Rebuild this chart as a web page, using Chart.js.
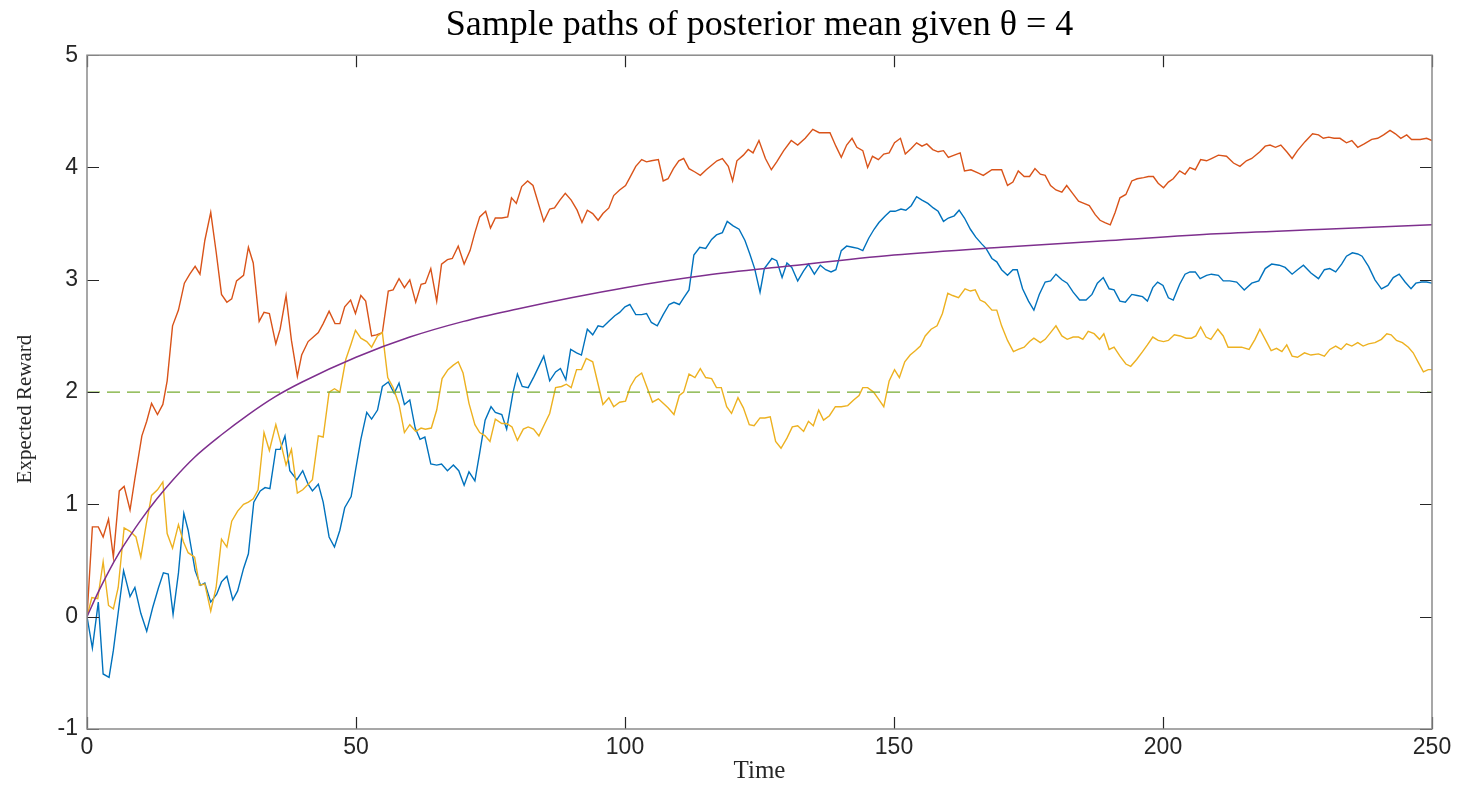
<!doctype html>
<html>
<head>
<title>Sample paths of posterior mean</title>
<script src="https://cdn.jsdelivr.net/npm/chart.js@4.4.1/dist/chart.umd.min.js"></script>
<style>
  body { margin: 0; background: #fff; }
  canvas { display: block; }
</style>
</head>
<body>
<canvas id="chart" width="1459" height="788"></canvas>
<script>
// values (time, expected reward)
var path1T = [0,1,2.1,3,4.1,4.9,6.8,8,8.9,10,11.1,12.2,13.3,14.2,15.1,16,17,18,18.8,20.1,21.1,21.9,23,24.1,25,26,27.1,28,29.1,30,31,32.2,33.1,34,35.1,35.9,36.8,37.7,39,40.1,41.1,41.9,43,43.9,45,46,47,47.9,49.1,49.9,50.9,52,52.9,54,54.9,56,57.1,58,59,60,61,61.9,62.8,63.9,65,65.9,67,68.1,69.1,70.1,71,72.1,73,74,75.1,75.9,77.1,78,79.2,80,80.9,82,83.1,84.9,86,87.1,88,89,89.9,91,91.9,93,94,95,95.9,97,98.1,99,100,100.9,102,103.1,104,104.9,106,107.1,108.2,109.1,110.1,110.9,111.9,112.8,113.9,115,116.1,117,118.1,119,120.1,121.2,122.3,123.2,124.1,125.1,125.9,127.3,128.2,129.2,130.1,131,132.1,133.2,134.1,135.2,136.3,137.3,138.3,139.2,140.2,141.2,142.3,143.3,144.2,145.3,146.3,147.2,148.4,149.3,150.2,151.3,152.2,153.2,154.2,155.2,156.3,157.3,158.2,159.2,160.1,161.2,162.1,163.1,164.2,165.2,166.3,167.1,168.2,169.1,170,171.1,172.1,172.9,173.9,175,176,177,178.1,179.1,180.1,181.2,182.2,183.3,184.5,185.7,186.8,187.8,188.9,190,190.9,192,193,194.2,195.2,196.2,197.1,198.1,199,200,201,201.9,203.1,204.1,205,206,206.9,208.1,209,210.3,211.2,212.4,213.7,215.1,216.5,217.8,219,220.2,221.6,222.7,224,225,226.1,227.5,228.9,230,231,232.1,233.2,234.1,235.2,236.2,237,238.2,239.4,240.6,241.8,242.8,243.9,245,246.1,247,248.1,249,250];
var path1V = [0,-0.28,0.13,-0.51,-0.54,-0.30,0.41,0.18,0.26,0.03,-0.13,0.08,0.26,0.39,0.38,0.02,0.39,0.92,0.77,0.41,0.28,0.30,0.13,0.20,0.31,0.36,0.15,0.23,0.43,0.56,1.02,1.12,1.15,1.14,1.49,1.49,1.61,1.30,1.22,1.30,1.18,1.12,1.18,1.02,0.71,0.62,0.77,0.97,1.07,1.30,1.58,1.82,1.76,1.84,2.05,2.09,1.99,2.08,1.89,1.93,1.68,1.58,1.60,1.36,1.35,1.36,1.30,1.35,1.30,1.17,1.29,1.21,1.46,1.75,1.87,1.82,1.80,1.67,2.00,2.16,2.05,2.04,2.14,2.32,2.10,2.18,2.21,2.11,2.38,2.35,2.33,2.56,2.51,2.59,2.58,2.63,2.68,2.71,2.76,2.78,2.69,2.69,2.70,2.62,2.59,2.69,2.78,2.80,2.78,2.84,2.91,3.22,3.29,3.28,3.36,3.40,3.42,3.52,3.48,3.45,3.35,3.23,3.10,2.89,3.10,3.19,3.17,3.02,3.15,3.11,2.99,3.08,3.14,3.05,3.13,3.09,3.07,3.09,3.26,3.30,3.29,3.28,3.26,3.37,3.45,3.51,3.57,3.61,3.61,3.63,3.62,3.66,3.74,3.71,3.68,3.64,3.61,3.52,3.55,3.57,3.62,3.55,3.45,3.38,3.32,3.28,3.19,3.16,3.09,3.04,3.09,3.09,2.92,2.81,2.73,2.87,2.98,2.99,3.05,3.00,2.97,2.89,2.82,2.82,2.87,2.97,3.02,2.92,2.91,2.81,2.80,2.87,2.86,2.85,2.81,2.93,2.98,2.95,2.84,2.82,2.96,3.05,3.07,3.07,3.01,3.04,3.05,3.04,2.99,2.99,2.98,2.91,2.97,2.99,3.10,3.14,3.13,3.11,3.05,3.09,3.13,3.06,3.01,3.09,3.10,3.07,3.14,3.21,3.24,3.23,3.21,3.12,3.00,2.92,2.95,3.02,3.05,2.98,2.92,2.97,2.98,2.98,2.97];

var path2T = [0,1,2.1,3,4,4.9,6,6.9,8,8.9,10.2,11.1,12,13.1,14.1,14.9,15.9,17,18.1,19.1,20.1,21,21.9,23,24,25,26,26.9,27.8,29.1,30,30.9,32,32.9,33.9,35.1,35.9,37,38,39.1,39.9,41.1,43,43.9,45,46.1,47,47.9,49,49.9,50.9,51.8,52.9,53.8,54.9,56,56.9,58,59,60,61.1,62.1,62.9,63.9,65,65.9,67,67.9,69,70.1,71.2,72.1,73,74.1,75,75.9,77.1,78.2,78.9,79.8,80.8,81.9,82.9,84.9,86,86.9,87.9,88.9,90,91.1,92,93,94,95,95.9,97,97.9,99,100.1,100.9,102,103.1,104,104.9,106.2,107.1,108,109,110,110.9,111.9,113,114,115.1,116.1,117.1,118.1,119.2,120,120.8,122,122.9,123.8,124.9,126.1,127.2,128.2,129.5,130.9,132.1,133.5,134.9,136.1,138.1,139.2,140.2,141.2,142.2,143.1,144.2,145.1,146,147.1,148.1,149.1,150.1,151.2,152.1,153.2,154.2,155.2,156.1,157.2,158.2,159.2,160.1,161.2,162.3,163.1,164.3,165.7,166.6,168.2,170,171.1,172.1,173.1,174.2,175.2,176.2,177.2,178.1,179.1,180.1,181.2,182.1,183.2,184.3,185.3,186.3,187.4,188.3,189.2,190.2,191.1,192,193.1,194.2,195.2,196.4,197.3,198.2,199.1,200.1,201,201.9,203.1,204.1,205,206,207,208.1,209,210.3,211.8,213.1,214.3,215.5,216.5,218,219,219.9,220.9,221.9,223,224,225,226.4,227.8,228.9,229.8,230.8,231.8,232.9,234.1,235.1,236.2,237.4,238.8,239.9,241,242.2,243.2,244.2,245.3,246.2,247.8,249,250];
var path2V = [0,0.80,0.80,0.71,0.87,0.53,1.12,1.16,0.95,1.23,1.61,1.74,1.90,1.80,1.89,2.10,2.59,2.73,2.97,3.05,3.12,3.05,3.35,3.60,3.25,2.87,2.80,2.83,2.99,3.04,3.29,3.15,2.63,2.71,2.70,2.43,2.56,2.86,2.46,2.14,2.33,2.45,2.53,2.61,2.72,2.61,2.61,2.76,2.82,2.70,2.86,2.81,2.50,2.51,2.53,2.90,2.91,3.01,2.93,3.00,2.80,2.96,2.97,3.10,2.81,3.14,3.18,3.19,3.30,3.14,3.26,3.42,3.56,3.61,3.46,3.55,3.55,3.56,3.73,3.68,3.83,3.88,3.84,3.52,3.63,3.64,3.71,3.77,3.71,3.62,3.51,3.62,3.59,3.53,3.59,3.64,3.75,3.80,3.84,3.91,4.01,4.07,4.05,4.06,4.07,3.88,3.90,3.99,4.06,4.08,3.99,3.96,3.93,3.98,4.02,4.06,4.08,4.01,3.88,4.06,4.11,4.16,4.13,4.24,4.08,3.98,4.05,4.15,4.24,4.20,4.26,4.34,4.31,4.31,4.19,4.09,4.20,4.26,4.18,4.15,4.00,4.10,4.07,4.12,4.13,4.22,4.26,4.12,4.17,4.22,4.19,4.21,4.16,4.14,4.15,4.09,4.11,4.13,3.97,3.98,3.95,3.93,3.98,3.98,3.84,3.87,3.97,3.92,3.92,3.99,3.94,3.93,3.84,3.80,3.78,3.84,3.77,3.70,3.68,3.66,3.58,3.53,3.51,3.49,3.60,3.73,3.76,3.88,3.90,3.91,3.92,3.92,3.86,3.82,3.87,3.90,3.97,3.94,4.00,3.98,4.07,4.06,4.08,4.11,4.10,4.04,4.01,4.06,4.08,4.14,4.19,4.20,4.18,4.20,4.14,4.08,4.15,4.23,4.30,4.29,4.26,4.27,4.26,4.26,4.22,4.24,4.18,4.21,4.25,4.26,4.29,4.33,4.30,4.26,4.29,4.25,4.25,4.26,4.24];

var path3T = [0,0.9,2,3,4,4.9,5.8,6.9,8,9.1,10,11,12,13.1,14.1,14.9,15.9,17,17.9,18.8,20,20.9,21.9,23,24,25,26,26.9,28,29.1,30,30.9,31.8,32.9,33.9,35.1,36.1,37,38,39.1,40.1,41.1,41.9,43,43.9,45,46,47,48.1,49.1,49.9,50.9,52,52.9,54,54.9,55.9,56.9,58,59,60,61.1,62.1,62.9,64,65,66,67.1,68.1,69,69.9,71,72.1,73,74,74.9,75.9,77.1,78,79,80,81.1,82,83,84,85.1,86,87.1,88.2,89.1,90,91,91.9,92.8,94,95,95.9,97,97.9,99,100.1,101,102,103.1,104.1,105.1,106.2,107.1,108,109.1,110.1,110.9,111.9,113,114,115,116.1,117,117.9,118.9,119.8,121,122,123.1,124,125.1,126,127,128,129,130.1,131.1,132.1,133.2,134.1,135,136,136.9,138,139.1,140.2,141.4,142.5,143.5,144.2,145.1,146.2,147.1,148.1,149.1,150.1,151,152,153,154,154.9,155.8,156.9,158,159,160,160.9,162,163.2,164.2,165.1,166,166.9,168.2,169.1,170,171.1,172.2,173.1,174.2,175.2,176,177.2,178.1,179.1,180.1,181.2,182.2,183.3,184.3,185.1,186.1,187.2,188.2,189,190,190.9,192,193.1,194,195.1,196.2,197.1,198.1,199.1,200.1,201,202.1,203.2,204.3,205.3,206.1,207,208,208.9,210.2,211.2,212.1,213.4,214.6,216,217.1,218,219,220.1,221.1,222.1,223,224,225,226.3,227.5,228.9,230,231,232.1,233.1,234.1,235.1,236.2,237.2,238.2,239.4,240.6,241.6,242.4,243.4,244.5,245.6,246.5,247.5,248.4,249.3,250];
var path3V = [0,0.17,0.16,0.49,0.10,0.07,0.26,0.79,0.76,0.71,0.53,0.82,1.08,1.13,1.20,0.74,0.61,0.82,0.67,0.57,0.53,0.28,0.29,0.05,0.26,0.69,0.62,0.85,0.94,1.00,1.02,1.05,1.13,1.64,1.48,1.71,1.53,1.35,1.49,1.10,1.13,1.18,1.22,1.61,1.60,2.00,2.03,2.00,2.29,2.43,2.55,2.48,2.45,2.40,2.50,2.53,2.13,2.04,1.89,1.64,1.71,1.65,1.68,1.67,1.68,1.84,2.12,2.20,2.24,2.27,2.17,1.90,1.71,1.64,1.61,1.56,1.76,1.72,1.72,1.69,1.57,1.67,1.69,1.67,1.61,1.72,1.81,2.04,2.05,2.07,2.04,2.20,2.20,2.30,2.27,2.07,1.89,1.95,1.87,1.91,1.92,2.05,2.13,2.17,2.04,1.91,1.94,1.90,1.86,1.80,1.97,2.00,2.16,2.13,2.21,2.13,2.12,2.04,2.04,1.87,1.81,1.95,1.86,1.71,1.70,1.77,1.77,1.78,1.56,1.50,1.59,1.69,1.70,1.65,1.74,1.70,1.84,1.75,1.79,1.87,1.87,1.88,1.93,1.97,2.04,2.04,2.00,1.94,1.87,2.10,2.20,2.13,2.27,2.33,2.37,2.41,2.50,2.56,2.59,2.70,2.88,2.86,2.84,2.92,2.90,2.91,2.82,2.80,2.73,2.73,2.59,2.46,2.36,2.38,2.40,2.45,2.48,2.44,2.47,2.53,2.59,2.50,2.47,2.49,2.49,2.47,2.54,2.52,2.47,2.52,2.38,2.40,2.32,2.25,2.23,2.29,2.36,2.42,2.49,2.46,2.45,2.46,2.51,2.50,2.48,2.48,2.50,2.58,2.49,2.47,2.56,2.50,2.40,2.40,2.40,2.38,2.47,2.56,2.47,2.37,2.39,2.36,2.42,2.32,2.31,2.35,2.33,2.34,2.32,2.38,2.41,2.38,2.43,2.41,2.44,2.41,2.43,2.44,2.47,2.52,2.51,2.46,2.44,2.40,2.35,2.26,2.18,2.20,2.20];

// smooth posterior-mean curve, read at a few times
var meanT = [0,2,4,6,8,10,13,16,20,25,30,35,40,50,60,70,80,90,100,115,130,150,170,190,210,230,250];
var meanV = [0,0.21,0.40,0.57,0.72,0.86,1.05,1.22,1.42,1.62,1.80,1.96,2.09,2.31,2.49,2.63,2.74,2.84,2.93,3.04,3.12,3.22,3.29,3.35,3.41,3.45,3.49];

// dashed reference level
var refT = [0, 250];
var refLevel = 2;

var xTicks = [0, 50, 100, 150, 200, 250];
var yTicks = [-1, 0, 1, 2, 3, 4, 5];
var yLabel = 'Expected Reward';

function pts(ts, vs) {
    var out = [];
    for (var i = 0; i < ts.length; i++) {
        out.push({ x: ts[i], y: Array.isArray(vs) ? vs[i] : vs });
    }
    return out;
}

// matlab style box with inward ticks, plus the y label (sits a bit below centre)
var boxPlugin = {
    id: 'box',
    afterDatasetsDraw: function(chart) {
        var a = chart.chartArea, c = chart.ctx;
        var sx = chart.scales.x, sy = chart.scales.y;
        var len = 12;
        c.save();
        c.strokeStyle = '#262626';
        c.lineWidth = 1.2;
        c.beginPath();
        xTicks.forEach(function(t) {
            var px = Math.round(sx.getPixelForValue(t)) + 0.5;
            c.moveTo(px, a.bottom); c.lineTo(px, a.bottom - len);
            c.moveTo(px, a.top); c.lineTo(px, a.top + len);
        });
        yTicks.forEach(function(t) {
            var py = Math.round(sy.getPixelForValue(t)) + 0.5;
            c.moveTo(a.left, py); c.lineTo(a.left + len, py);
            c.moveTo(a.right, py); c.lineTo(a.right - len, py);
        });
        c.stroke();
        c.strokeStyle = '#8a8a8a';
        c.lineWidth = 1.5;
        c.strokeRect(a.left, a.top, a.right - a.left, a.bottom - a.top);

        c.translate(25, (a.top + a.bottom) / 2 + 17);
        c.rotate(-Math.PI / 2);
        c.fillStyle = '#262626';
        c.font = '21px "Liberation Serif"';
        c.textAlign = 'center';
        c.textBaseline = 'middle';
        c.fillText(yLabel, 0, 0);
        c.restore();
    }
};

var config = {
    type: 'line',
    data: {
        datasets: [{
            label: 'path 1',
            data: pts(path1T, path1V),
            borderColor: '#0072BD',
            borderWidth: 1.4,
            order: 5
        }, {
            label: 'path 2',
            data: pts(path2T, path2V),
            borderColor: '#D95319',
            borderWidth: 1.4,
            order: 4
        }, {
            label: 'path 3',
            data: pts(path3T, path3V),
            borderColor: '#EDB120',
            borderWidth: 1.4,
            order: 3
        }, {
            label: 'posterior mean',
            data: pts(meanT, meanV),
            borderColor: '#7E2F8E',
            borderWidth: 1.5,
            cubicInterpolationMode: 'monotone',
            order: 2
        }, {
            label: 'level',
            data: pts(refT, refLevel),
            borderColor: '#77AC30',
            borderWidth: 1.3,
            borderDash: [13, 7],
            order: 1
        }]
    },
    options: {
        responsive: false,
        animation: false,
        layout: { padding: { left: 0, right: 27, top: 0, bottom: 0 } },
        elements: { point: { radius: 0 }, line: { tension: 0 } },
        plugins: {
            legend: { display: false },
            tooltip: { enabled: false },
            title: {
                display: true,
                fullSize: false,
                text: 'Sample paths of posterior mean given \u03b8 = 4',
                color: '#000',
                font: { family: 'Liberation Serif', size: 36, weight: 'normal' },
                padding: { top: 4, bottom: 8 }
            }
        },
        scales: {
            x: {
                type: 'linear',
                min: 0,
                max: 250,
                afterBuildTicks: function(s) { s.ticks = xTicks.map(function(v) { return { value: v }; }); },
                afterFit: function(s) { s.height = 59; },
                grid: { display: false, drawTicks: false },
                border: { display: false },
                ticks: {
                    color: '#262626',
                    padding: 5,
                    maxRotation: 0,
                    font: { family: 'Liberation Sans', size: 23 }
                },
                title: {
                    display: true,
                    text: 'Time',
                    color: '#262626',
                    font: { family: 'Liberation Serif', size: 25 },
                    padding: { top: 0, bottom: 2 }
                }
            },
            y: {
                type: 'linear',
                min: -1,
                max: 5,
                afterBuildTicks: function(s) { s.ticks = yTicks.map(function(v) { return { value: v }; }); },
                afterFit: function(s) { s.width = 87; },
                grid: { display: false, drawTicks: false },
                border: { display: false },
                ticks: {
                    color: '#262626',
                    padding: 9,
                    font: { family: 'Liberation Sans', size: 23 }
                }
            }
        }
    },
    plugins: [boxPlugin]
};

window.onload = function() {
    var ctx = document.getElementById('chart').getContext('2d');
    window.myChart = new Chart(ctx, config);
};
</script>
</body>
</html>
